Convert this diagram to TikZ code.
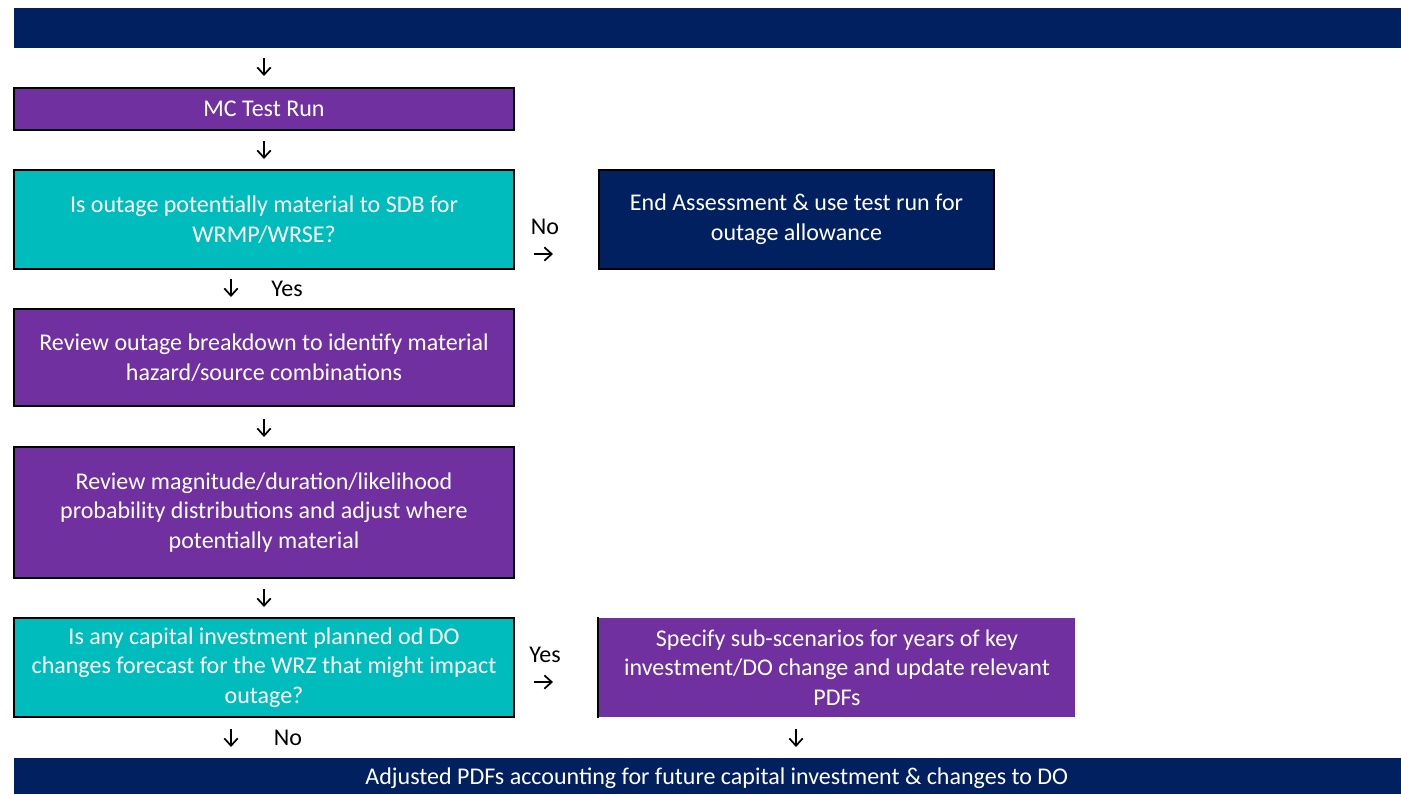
\documentclass[tikz,border=0pt]{standalone}
\usepackage{fontspec}
\setmainfont{Carlito}
\usetikzlibrary{arrows.meta}

\begin{document}
\begin{tikzpicture}[x=0.75pt,y=0.75pt,yscale=-1,xscale=1,
  flowbox/.style={draw=black, line width=1.5pt, text=white, align=center, inner sep=0pt,
    minimum width=375pt, font=\fontsize{18}{22.2}\selectfont},
  purplebox/.style={flowbox, fill={rgb, 255:red, 112; green, 48; blue, 160 }},
  tealbox/.style={flowbox, fill={rgb, 255:red, 0; green, 188; blue, 188 }},
  navybox/.style={flowbox, fill={rgb, 255:red, 0; green, 32; blue, 96 }},
  bar/.style={navybox, draw=none, minimum width=1040.25pt},
  pointer/.style={line width=1.3pt, -{Straight Barb[length=5.5pt,width=10pt]}},
  answer/.style={inner sep=0pt, font=\fontsize{18}{18}\selectfont}]
\useasboundingbox (0,0) rectangle (1401,794);

%Shape: Rectangle [id:top bar]
\draw (707,28) node (top) [bar, minimum height=30pt] {};
%Shape: Rectangle [id:test run]
\draw (264,109) node (mc) [purplebox, minimum height=31.5pt] {MC Test Run};
%Shape: Rectangle [id:material question]
\draw (264,219.5) node (qsdb) [tealbox, minimum height=74.25pt] {Is outage potentially material to SDB for\\WRMP/WRSE?};
%Shape: Rectangle [id:end assessment]
\draw (796.5,219.5) node (stop) [navybox, minimum width=296.25pt, minimum height=74.25pt] {End Assessment \& use test run for\\outage allowance};
%Shape: Rectangle [id:breakdown]
\draw (264,357.5) node (breakdown) [purplebox, minimum height=72.75pt] {Review outage breakdown to identify material\\hazard/source combinations};
%Shape: Rectangle [id:distributions]
\draw (264,512.5) node (pdfs) [purplebox, minimum height=98.25pt] {Review magnitude/duration/likelihood\\probability distributions and adjust where\\potentially material};
%Shape: Rectangle [id:investment question]
\draw (264,667.5) node (qcap) [tealbox, minimum height=74.25pt] {Is any capital investment planned od DO\\changes forecast for the WRZ that might impact\\outage?};
%Shape: Rectangle [id:sub-scenarios]
\draw (837,667.5) node (subs) [purplebox, draw=none, minimum width=357pt, minimum height=74.25pt] {Specify sub-scenarios for years of key\\investment/DO change and update relevant\\PDFs};
\draw [line width=1.5pt] (subs.north west) -- (subs.south west) ;
%Shape: Rectangle [id:bottom bar]
\draw (707.5,776) node (result) [bar, minimum height=27pt, text depth=0pt] {\hspace{14pt}Adjusted PDFs accounting for future capital investment \& changes to DO};

%Straight Lines [id:down arrows]
\draw [pointer] (264,58) coordinate (d1s) -- (264,76) coordinate (d1e) ;
\draw [pointer] (264,141) coordinate (d2s) -- (264,159) coordinate (d2e) ;
\draw [pointer] (231,279) coordinate (d3s) -- (231,297) coordinate (d3e) ;
\draw [pointer] (264,419) coordinate (d4s) -- (264,437) coordinate (d4e) ;
\draw [pointer] (264,589) coordinate (d5s) -- (264,607) coordinate (d5e) ;
\draw [pointer] (231,729) coordinate (d6s) -- (231,747) coordinate (d6e) ;
\draw [pointer] (796,729) coordinate (d7s) -- (796,747) coordinate (d7e) ;
%Straight Lines [id:side arrows]
\draw [pointer] (534,254) coordinate (r1s) -- (553,254) coordinate (r1e) ;
\draw [pointer] (534,682) coordinate (r2s) -- (553,682) coordinate (r2e) ;

% Text Node
\draw (287,289) node (yes1) [answer] {Yes};
% Text Node
\draw (545,227) node (no1) [answer] {No};
% Text Node
\draw (545,655) node (yes2) [answer] {Yes};
% Text Node
\draw (288,738) node (no2) [answer] {No};

\end{tikzpicture}
\end{document}
